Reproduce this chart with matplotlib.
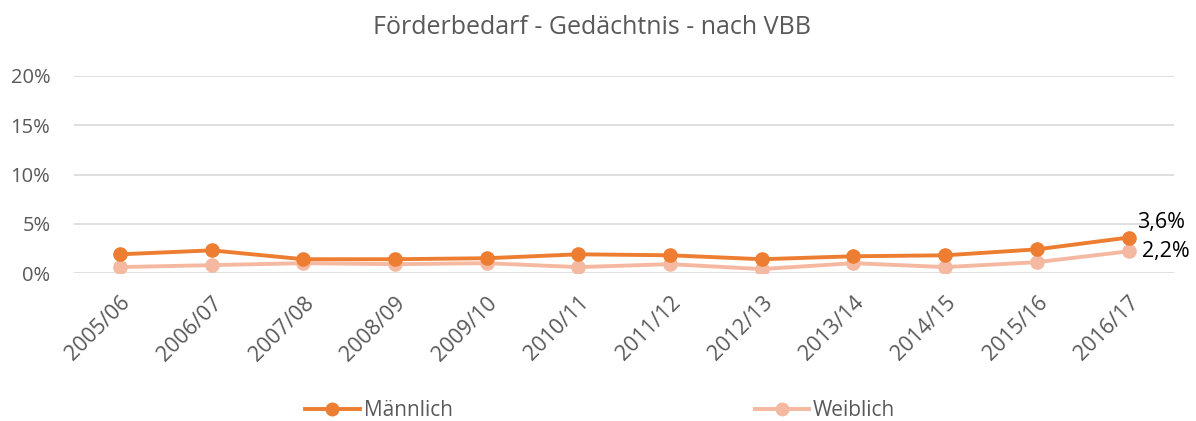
import matplotlib
matplotlib.use('Agg')
import matplotlib.pyplot as plt
from matplotlib.ticker import FuncFormatter

plt.rcParams['font.family'] = ['Open Sans', 'DejaVu Sans']

# Schuljahre und Anteile (in %)
years = ['2005/06', '2006/07', '2007/08', '2008/09', '2009/10', '2010/11',
         '2011/12', '2012/13', '2013/14', '2014/15', '2015/16', '2016/17']
maennlich = [1.9, 2.3, 1.4, 1.4, 1.5, 1.9, 1.8, 1.4, 1.7, 1.8, 2.4, 3.6]
weiblich = [0.6, 0.8, 1.0, 0.9, 1.0, 0.6, 0.9, 0.4, 1.0, 0.6, 1.1, 2.2]
yticks = [0, 5, 10, 15, 20]

c_m = '#ED7D31'
c_w = '#F4B9A0'
grey = '#595959'

fig = plt.figure(figsize=(11.96, 4.21), dpi=100)
ax = fig.add_axes([0.0619, 0.3515, 0.92, 0.468])

x = range(len(years))
ax.plot(x, weiblich, color=c_w, lw=2.8, marker='o', ms=9.5, label='Weiblich', zorder=3)
ax.plot(x, maennlich, color=c_m, lw=2.8, marker='o', ms=9.5, label='Männlich', zorder=4)

ax.set_xlim(-0.5, len(years) - 0.5)
ax.set_ylim(0, 20)
ax.set_yticks(yticks)
ax.yaxis.set_major_formatter(FuncFormatter(lambda v, p: f'{v:.0f}%'))
ax.set_xticks(list(x))
ax.set_xticklabels(years, rotation=45, ha='right', rotation_mode='anchor')
ax.tick_params(axis='y', length=0, labelsize=14.5, labelcolor=grey, pad=17)
ax.tick_params(axis='x', length=0, labelsize=15.5, labelcolor=grey, pad=14)
ax.grid(axis='y', color='#D9D9D9', lw=1.2)
ax.set_axisbelow(True)
for s in ax.spines.values():
    s.set_visible(False)

# Werte am letzten Punkt
ax.annotate(f'{maennlich[-1]:.1f}%'.replace('.', ','), (11, maennlich[-1]),
            xytext=(6, 3), textcoords='offset points', fontsize=15.5, va='bottom')
ax.annotate(f'{weiblich[-1]:.1f}%'.replace('.', ','), (11, weiblich[-1]),
            xytext=(10, 0), textcoords='offset points', fontsize=15.5, va='center')

fig.suptitle('Förderbedarf - Gedächtnis - nach VBB', x=0.495, y=0.965,
             fontsize=18, color=grey)

h, l = ax.get_legend_handles_labels()
fig.legend(h[::-1], l[::-1], loc='center', bbox_to_anchor=(0.502, 0.024), ncol=2,
           frameon=False, fontsize=15, labelcolor=grey, columnspacing=14.5,
           handlelength=2.6, handletextpad=0.2, markerscale=0.95)

fig.savefig('out.png', dpi=100)
